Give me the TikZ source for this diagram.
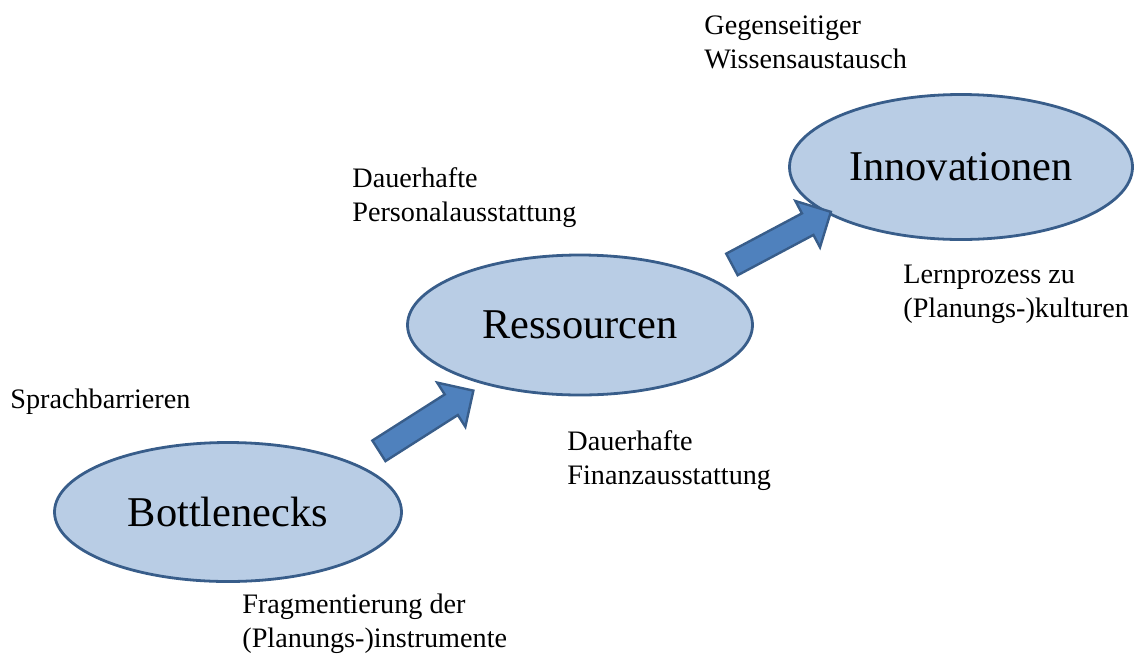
\documentclass[tikz,border=0pt]{standalone}
\usepackage{fontspec}
\setmainfont{Liberation Serif}
\usetikzlibrary{shapes.geometric,shapes.arrows,positioning}

\definecolor{stageline}{RGB}{56,93,138}
\definecolor{stagefill}{RGB}{185,205,229}
\definecolor{pushfill}{RGB}{79,129,189}

\begin{document}
\begin{tikzpicture} [
	x=0.5pt, y=-0.5pt,
	stage/.style = {draw=stageline, line width=1.4pt, ellipse, fill=stagefill,
		inner sep=0pt, font=\fontsize{21.2}{25}\selectfont},
	push/.style = {single arrow, draw=stageline, line width=1.2pt, fill=pushfill,
		minimum height=56pt, inner xsep=0pt, inner ysep=5.5pt,
		single arrow head extend=7pt, single arrow tip angle=90},
	note/.style = {align=left, anchor=west, inner sep=0pt, font=\fontsize{14.1}{17}\selectfont},
]
\useasboundingbox (0,0) rectangle (1140,654);
\node [stage, minimum width=173.5pt, minimum height=69.5pt] (bottlenecks) at (228,512) {Bottlenecks};
\node [stage, minimum width=172.5pt, minimum height=70pt] (ressourcen) at (580,325) {Ressourcen};
\node [stage, minimum width=171.5pt, minimum height=72.5pt] (innovationen) at (961,167) {Innovationen};
% arrows between the stages
\node [push, rotate=32.5] (up1) at (421,424) {};
\node [push, rotate=28] (up2) at (776,241) {};
% labels
\node [note] (sprache) at (10,402) {Sprachbarrieren};
\node [note] (fragment) at (242,624) {Fragmentierung der\\(Planungs-)instrumente};
\node [note] (personal) at (352,198) {Dauerhafte\\Personalausstattung};
\node [note] (finanz) at (567,461) {Dauerhafte\\Finanzausstattung};
\node [note] (wissen) at (704,42) {Gegenseitiger\\Wissensaustausch};
\node [note] (lernen) at (903,294) {Lernprozess zu\\(Planungs-)kulturen};
\end{tikzpicture}
\end{document}
